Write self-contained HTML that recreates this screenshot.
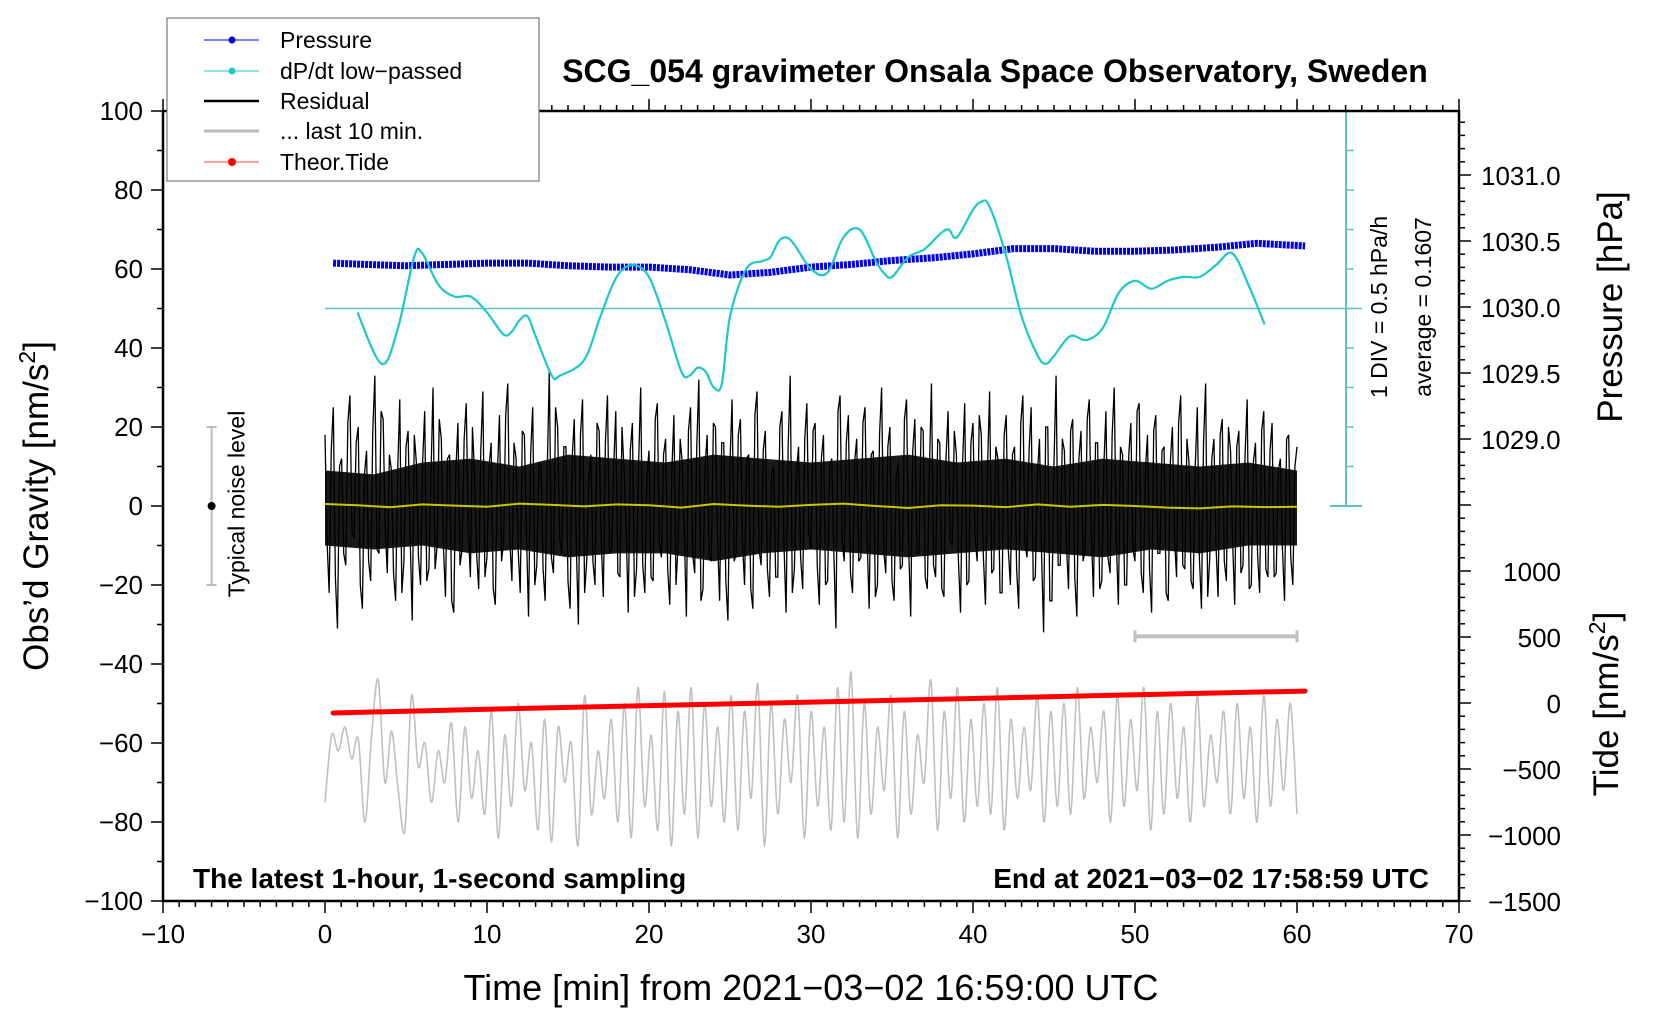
<!DOCTYPE html>
<html><head><meta charset="utf-8"><style>
html,body{margin:0;padding:0;background:#fff}
svg{display:block;font-family:"Liberation Sans",sans-serif}
</style></head><body>
<svg id="chart" width="1660" height="1020" viewBox="0 0 1660 1020">
<g id="marks"></g>
<g id="axes"></g>
</svg>
<script>
// ---- data ----
const pressureTimes = [0.5,2.5,5,7.5,10,12.5,15,17.5,20,22.5,25,27.5,30,32.5,35,37.5,40,42.5,45,47.5,50,52.5,55,57.5,60.5];
const pressureHpa = [1030.34,1030.33,1030.32,1030.33,1030.34,1030.34,1030.32,1030.31,1030.31,1030.29,1030.25,1030.27,1030.31,1030.33,1030.36,1030.38,1030.41,1030.45,1030.45,1030.43,1030.43,1030.44,1030.46,1030.49,1030.47];
const dpdtTimes = [2,3.5,4.5,5.5,6,7,8,9,10,11,11.5,12,12.5,13,14,14.5,16,17,18,19,20,21,22,22.5,23,23.5,24,24.5,25,26,27,27.5,28,28.5,29,30,31,32,33,34,34.5,35,36,37,38,38.5,39,40,40.5,41,42,43,44,44.5,45,46,47,48,49,50,51,52,53,54,55,56,57,58];
const dpdtGrav = [49,36,45,63,64,56,53,53,49,43.5,44,47,48,43,33,33,37,48,58,61,58,47,34,33,35,34,30,31,48,60,62,63,67,68,66,60,59,68,70,62,59,58,63,65,69,70,68,75,77,76,64,48,38,36,38,43,42,45,54,57,55,57,58,58,61,64,56,46];
const residual = [18,-22,25,-31,12,-15,28,-8,20,-26,14,-19,33,-12,22,-17,9,-24,27,-14,19,-29,11,-20,24,-16,30,-10,17,-23,13,-27,21,-11,26,-18,8,-21,29,-13,16,-25,23,-9,31,-19,12,-22,18,-28,25,-15,10,-24,34,-17,20,-12,15,-26,22,-30,27,-14,13,-20,19,-23,28,-11,24,-18,9,-27,21,-16,30,-22,14,-19,26,-13,17,-25,23,-10,11,-28,25,-17,32,-21,18,-14,20,-24,16,-29,27,-12,22,-20,13,-26,29,-15,19,-23,10,-18,24,-27,33,-16,15,-21,26,-11,21,-25,18,-19,12,-31,28,-14,23,-22,17,-13,25,-26,14,-20,30,-17,20,-24,11,-15,27,-28,22,-12,19,-21,31,-18,16,-23,24,-10,13,-27,26,-19,21,-14,18,-25,29,-16,12,-22,23,-20,15,-26,28,-13,25,-18,17,-32,20,-24,33,-15,14,-21,22,-28,19,-11,27,-23,16,-19,24,-17,30,-25,13,-20,21,-14,26,-22,18,-27,23,-12,15,-24,20,-18,28,-16,11,-21,25,-26,31,-13,17,-23,22,-19,14,-25,19,-15,27,-20,16,-22,24,-18,21,-17,12,-24,18,-20,15];
const residualB = [-9,14,-18,10,-12,21,-7,16,-20,8,-14,19,-11,24,-6,13,-17,9,-22,15,-8,18,-13,11,-19,7,-16,22,-10,12,-24,9,-15,17,-6,20,-12,14,-18,10,-21,8,-14,23,-9,16,-11,19,-7,13,-20,11,-16,9,-13,25,-8,15,-19,12,-10,18,-22,7,-14,21,-9,16,-12,10,-17,20,-6,14,-23,11,-15,8,-18,22,-10,13,-16,9,-20,17,-7,19,-12,15,-24,10,-13,21,-8,16,-19,11,-14,18,-9,12,-21,23,-11,14,-16,8,-18,20,-10,15,-22,9,-13,17,-7,19,-15,12,-20,10,-12,24,-9,16,-17,11,-14,21,-8,13,-23,18,-11,15,-19,7,-16,22,-10,14,-12,20,-18,9,-15,17,-21,12,-9,19,-14,11,-20,16,-8,23,-13,10,-17,15,-22,18,-11,13,-16,21,-9,14,-19,8,-12,20,-24,11,-15,17,-10,19,-18,12,-14,22,-7,16,-21,10,-13,18,-9,15,-20,13,-11,24,-17,9,-16,19,-12,14,-22,11,-8,21,-15,17,-19,10,-13,16,-23,12,-10,18,-14,20,-9,15,-17,13,-21,11,-12,19,-16,14,-18,9,-11,17,-13,10];
// dense core band of the residual (approx. upper / lower envelope of the bulk)
const coreTimes = [0,3,6,9,12,15,18,21,24,27,30,33,36,39,42,45,48,51,54,57,60];
const coreUpper = [9,8,11,12,10,13,12,11,13,12,11,12,13,11,12,10,12,11,10,11,9];
const coreLower = [-10,-11,-10,-12,-11,-13,-12,-12,-14,-12,-11,-12,-13,-12,-11,-12,-13,-11,-12,-10,-10];
const smoothTimes = [0,2,4,6,8,10,12,14,16,18,20,22,24,26,28,30,32,34,36,38,40,42,44,46,48,50,52,54,56,58,60];
const smoothVals = [0.5,0.2,-0.3,0.4,0.1,-0.2,0.6,0.3,-0.1,0.4,0.2,-0.4,0.5,0.1,-0.2,0.3,0.6,0,-0.5,0.2,0.1,-0.3,0.4,-0.2,0.3,0,-0.4,-0.6,-0.1,-0.3,-0.2];
const last10 = [-75,-58,-62,-56,-64,-59,-80,-58,-44,-70,-57,-72,-82,-48,-66,-60,-75,-62,-70,-55,-80,-56,-74,-62,-78,-52,-84,-58,-76,-50,-72,-60,-82,-54,-85,-56,-70,-60,-86,-48,-78,-62,-74,-54,-80,-50,-84,-46,-76,-58,-82,-47,-86,-52,-78,-46,-84,-50,-76,-56,-80,-48,-82,-52,-74,-45,-86,-50,-78,-54,-70,-48,-84,-52,-76,-56,-82,-46,-80,-42,-84,-50,-78,-56,-72,-48,-84,-52,-78,-58,-70,-44,-82,-52,-74,-46,-80,-54,-76,-50,-78,-46,-82,-54,-74,-56,-72,-48,-80,-52,-76,-50,-78,-46,-74,-56,-70,-52,-80,-48,-76,-54,-72,-46,-82,-52,-78,-50,-74,-56,-80,-48,-76,-58,-70,-52,-78,-50,-74,-56,-80,-48,-76,-54,-72,-50,-78];
const tideTimes = [0.5,10,20,30,40,50,60.5];
const tideVals = [-68,-40,-12,14,42,70,98];
const xTicks = [-10,0,10,20,30,40,50,60,70];
const yTicks = [100,80,60,40,20,0,-20,-40,-60,-80,-100];
const pTicks = [1031.0,1030.5,1030.0,1029.5,1029.0];
const tTicks = [1000,500,0,-500,-1000,-1500];

// ---- scales ----
const L=163,R=1459,T=111,B=901;
const X=v=>L+(v+10)*(R-L)/80;
const Y=v=>T+(100-v)*(B-T)/200;
const YP=p=>308-(p-1030)*132;
const YT=t=>704-t*0.132;
const NS='http://www.w3.org/2000/svg';
const marks=document.getElementById('marks'), axes=document.getElementById('axes');
function el(tag,attrs,parent){const e=document.createElementNS(NS,tag);for(const k in attrs)e.setAttribute(k,attrs[k]);(parent||marks).appendChild(e);return e;}
function txt(s,attrs,parent){const e=el('text',attrs,parent);e.textContent=s;return e;}
function smoothPath(P){let d='M'+P[0][0]+','+P[0][1];for(let i=0;i<P.length-1;i++){const p0=P[Math.max(i-1,0)],p1=P[i],p2=P[i+1],p3=P[Math.min(i+2,P.length-1)];
  d+=' C'+(p1[0]+(p2[0]-p0[0])/6)+','+(p1[1]+(p2[1]-p0[1])/6)+' '+(p2[0]-(p3[0]-p1[0])/6)+','+(p2[1]-(p3[1]-p1[1])/6)+' '+p2[0]+','+p2[1];}return d;}
const FS=26;

let e;
e=el('line',{x1:X(0),x2:1362,y1:Y(50),y2:Y(50),stroke:'#5cc3c0','stroke-width':1.5});



// residual core band
const band=coreTimes.map((t,i)=>X(t)+','+Y(coreUpper[i])).concat(coreTimes.map((t,i)=>X(t)+','+Y(coreLower[i])).reverse()).join(' ');
e=el('polygon',{points:band,fill:'#000','fill-opacity':0.9});



// residual (two interleaved readings)
const resPts=[];
residual.forEach((v,i)=>{const t=i*60/(residual.length-1);resPts.push([X(t),Y(v)]);if(i<residualB.length&&i<residual.length-1)resPts.push([X(t+30/(residual.length-1)),Y(residualB[i])]);});
e=el('polyline',{points:resPts.map(p=>p[0]+','+p[1]).join(' '),fill:'none',stroke:'#000','stroke-width':1.3});


let pts=smoothTimes.map((t,i)=>X(t)+','+Y(smoothVals[i])).join(' ');
e=el('polyline',{points:pts,fill:'none',stroke:'#c8c800','stroke-width':2});



// last 10 min
e=el('path',{d:smoothPath(last10.map((v,i)=>[X(i*60/(last10.length-1)),Y(v)])),fill:'none',stroke:'#c0c0c0','stroke-width':1.6});



// pressure
pts=pressureTimes.map((t,i)=>X(t)+','+YP(pressureHpa[i])).join(' ');
e=el('polyline',{points:pts,fill:'none',stroke:'#0000ee','stroke-width':7,'stroke-linejoin':'round','stroke-dasharray':'3 1'});



// dpdt
e=el('path',{d:smoothPath(dpdtTimes.map((t,i)=>[X(t),Y(dpdtGrav[i])])),fill:'none',stroke:'#1cc8c8','stroke-width':2.2});



// tide
pts=tideTimes.map((t,i)=>X(t)+','+YT(tideVals[i])).join(' ');
e=el('polyline',{points:pts,fill:'none',stroke:'#ff0000','stroke-width':5,'stroke-linecap':'round'});



// noise level bar
e=el('line',{x1:X(-7),x2:X(-7),y1:Y(20),y2:Y(-20),stroke:'#bbb','stroke-width':2});


el('line',{x1:X(-7)-5,x2:X(-7)+5,y1:Y(20),y2:Y(20),stroke:'#bbb','stroke-width':2});
el('line',{x1:X(-7)-5,x2:X(-7)+5,y1:Y(-20),y2:Y(-20),stroke:'#bbb','stroke-width':2});
el('circle',{cx:X(-7),cy:Y(0),r:4,fill:'#000'});
e=txt('Typical noise level',{x:0,y:0,transform:`translate(${X(-7)+33},${Y(0)-2}) rotate(-90)`,'text-anchor':'middle','font-size':23});



// 10-min bar
e=el('line',{x1:X(50),x2:X(60),y1:Y(-33),y2:Y(-33),stroke:'#c0c0c0','stroke-width':4});


el('line',{x1:X(50),x2:X(50),y1:Y(-33)-6,y2:Y(-33)+6,stroke:'#c0c0c0','stroke-width':3});
el('line',{x1:X(60),x2:X(60),y1:Y(-33)-6,y2:Y(-33)+6,stroke:'#c0c0c0','stroke-width':3});

// cyan scale
e=el('line',{x1:1346,x2:1346,y1:Y(100),y2:Y(0),stroke:'#5cc3c0','stroke-width':2});


el('line',{x1:1330,x2:1362,y1:Y(100),y2:Y(100),stroke:'#5cc3c0','stroke-width':2});
el('line',{x1:1330,x2:1362,y1:Y(0),y2:Y(0),stroke:'#5cc3c0','stroke-width':2});
for(let g=10;g<100;g+=10){el('line',{x1:1346,x2:1354,y1:Y(g),y2:Y(g),stroke:'#5cc3c0','stroke-width':1.5});}
e=txt('1 DIV = 0.5 hPa/h',{transform:'translate(1387,307) rotate(-90)','text-anchor':'middle','font-size':23});


e=txt('average = 0.1607',{transform:'translate(1431,307) rotate(-90)','text-anchor':'middle','font-size':23});



// frame
e=el('rect',{x:L,y:T,width:R-L,height:B-T,fill:'none',stroke:'#000','stroke-width':2.5},axes);


for(let v=-10;v<=70;v++){const maj=v%10===0;
  el('line',{x1:X(v),x2:X(v),y1:B,y2:B+(maj?12:6),stroke:'#000','stroke-width':1.5},axes);
  el('line',{x1:X(v),x2:X(v),y1:T,y2:T-(maj?12:6),stroke:'#000','stroke-width':1.5},axes);}
xTicks.forEach(v=>{const t=txt(String(v).replace('-','\u2212'),{x:X(v),y:B+42,'text-anchor':'middle','font-size':FS},axes);
  
  });
for(let v=-100;v<=100;v+=10){el('line',{x1:L,x2:L-(v%20===0?12:6),y1:Y(v),y2:Y(v),stroke:'#000','stroke-width':1.5},axes);}
yTicks.forEach(v=>{const t=txt(String(v).replace('-','\u2212'),{x:L-20,y:Y(v)+9,'text-anchor':'end','font-size':FS},axes);
  
  });
for(let k=0;k<=60;k++){const y=B-k*13.2;if(y<T-1)break;el('line',{x1:R,x2:R+(k%5===0?12:6),y1:y,y2:y,stroke:'#000','stroke-width':1.5},axes);}
pTicks.forEach(v=>{const t=txt(v.toFixed(1),{x:1481,y:YP(v)+9,'font-size':FS},axes);
  
  });
tTicks.forEach(v=>{const t=txt(String(v).replace('-','\u2212'),{x:1561,y:YT(v)+9,'text-anchor':'end','font-size':FS},axes);
  
  });
</script>
<svg style="position:absolute;left:0;top:0" width="1660" height="1020">
<text x="995" y="82" text-anchor="middle" font-size="32" font-weight="bold" font-family="Liberation Sans, sans-serif">SCG_054 gravimeter Onsala Space Observatory, Sweden</text>
<text x="811" y="1000" text-anchor="middle" font-size="36" font-family="Liberation Sans, sans-serif">Time [min] from 2021−03−02 16:59:00 UTC</text>
<text transform="translate(48,506) rotate(-90)" text-anchor="middle" font-size="35" font-family="Liberation Sans, sans-serif">Obs’d Gravity [nm/s<tspan dy="-13" font-size="23">2</tspan><tspan dy="13">]</tspan></text>
<text transform="translate(1622,307) rotate(-90)" text-anchor="middle" font-size="35" font-family="Liberation Sans, sans-serif">Pressure [hPa]</text>
<text transform="translate(1618,704) rotate(-90)" text-anchor="middle" font-size="35" font-family="Liberation Sans, sans-serif">Tide [nm/s<tspan dy="-13" font-size="23">2</tspan><tspan dy="13">]</tspan></text>
<text x="193" y="888" font-size="28" font-weight="bold" font-family="Liberation Sans, sans-serif">The latest 1-hour, 1-second sampling</text>
<text x="1429" y="888" text-anchor="end" font-size="28" font-weight="bold" font-family="Liberation Sans, sans-serif">End at 2021−03−02 17:58:59 UTC</text>
<g font-family="Liberation Sans, sans-serif" font-size="23">
<rect x="167" y="18" width="372" height="163" fill="#fff" stroke="#777" stroke-width="1.2"/>
<g><line x1="204" x2="259" y1="40" y2="40" stroke="#0000ee"/><circle cx="232" cy="40" r="3.5" fill="#0000ee"/><text x="280" y="48">Pressure</text></g>
<g><line x1="204" x2="259" y1="71" y2="71" stroke="#1cc8c8"/><circle cx="232" cy="71" r="3.5" fill="#1cc8c8"/><text x="280" y="79">dP/dt low−passed</text></g>
<g><line x1="204" x2="259" y1="101" y2="101" stroke="#000" stroke-width="2.5"/><text x="280" y="109">Residual</text></g>
<g><line x1="204" x2="259" y1="131" y2="131" stroke="#bbb" stroke-width="3"/><text x="280" y="139">... last 10 min.</text></g>
<g><line x1="204" x2="259" y1="162" y2="162" stroke="#ff4444"/><circle cx="232" cy="162" r="4" fill="#ff0000"/><text x="280" y="170">Theor.Tide</text></g>
</g>
</svg>
</body></html>
